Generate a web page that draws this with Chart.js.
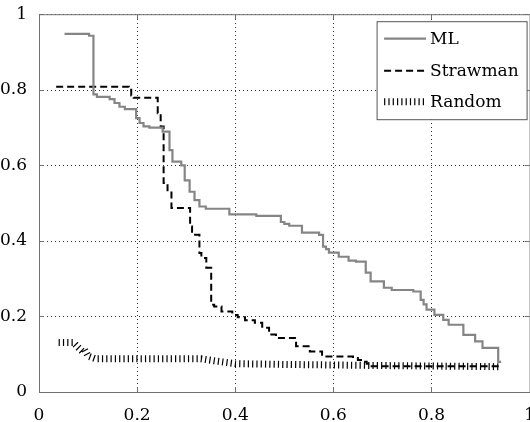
<!DOCTYPE html>
<html>
<head>
<meta charset="utf-8">
<script src="https://cdn.jsdelivr.net/npm/chart.js@4"></script>
<style>
  html, body { margin: 0; padding: 0; background: #fff; overflow: hidden; }
  canvas { display: block; }
</style>
</head>
<body>
<canvas id="pr-chart" width="540" height="422"></canvas>
<script>
const tickLabels = ["0", "0.2", "0.4", "0.6", "0.8", "1"];
const seriesNames = ["ML", "Strawman", "Random"];

const mlX = [0.052, 0.102, 0.111, 0.118, 0.144, 0.154, 0.164, 0.175, 0.198, 0.205, 0.213, 0.225,
  0.252, 0.266, 0.272, 0.29, 0.297, 0.307, 0.317, 0.327, 0.34, 0.388, 0.443, 0.493, 0.5, 0.51,
  0.536, 0.571, 0.579, 0.585, 0.591, 0.611, 0.631, 0.646, 0.666, 0.676, 0.703, 0.719, 0.763,
  0.778, 0.784, 0.79, 0.806, 0.824, 0.835, 0.865, 0.889, 0.904, 0.936, 0.942];
const mlY = [0.948, 0.943, 0.788, 0.781, 0.775, 0.765, 0.755, 0.749, 0.725, 0.712, 0.703, 0.70,
  0.689, 0.64, 0.61, 0.6, 0.56, 0.53, 0.508, 0.491, 0.485, 0.47, 0.466, 0.45, 0.445, 0.44,
  0.422, 0.416, 0.385, 0.378, 0.369, 0.358, 0.348, 0.345, 0.316, 0.293, 0.276, 0.27, 0.266,
  0.244, 0.232, 0.218, 0.204, 0.191, 0.178, 0.151, 0.134, 0.117, 0.08, 0.08];

const strawX = [0.035, 0.183, 0.188, 0.193, 0.242, 0.248, 0.254, 0.262, 0.27, 0.308, 0.312, 0.327,
  0.331, 0.341, 0.351, 0.357, 0.372, 0.394, 0.405, 0.42, 0.44, 0.455, 0.469, 0.483, 0.524,
  0.552, 0.577, 0.64, 0.65, 0.66, 0.668, 0.675, 0.942];
const strawY = [0.808, 0.80, 0.785, 0.779, 0.738, 0.703, 0.553, 0.531, 0.487, 0.438, 0.416, 0.368,
  0.355, 0.329, 0.231, 0.226, 0.213, 0.204, 0.198, 0.19, 0.183, 0.17, 0.152, 0.143, 0.121,
  0.107, 0.094, 0.09, 0.085, 0.08, 0.075, 0.068, 0.068];

const randX = [0.04, 0.07, 0.08, 0.088, 0.093, 0.1, 0.115, 0.33, 0.36, 0.4, 0.5, 0.7, 0.94];
const randY = [0.131, 0.131, 0.118, 0.108, 0.112, 0.095, 0.088, 0.088, 0.082, 0.075, 0.073, 0.07, 0.067];

const pts = (xs, ys) => xs.map((x, i) => ({ x: x, y: ys[i] }));
const FONT = { family: "'DejaVu Serif', serif", size: 17 };

// dotted grid, grey frame with inward ticks, boxed legend inside the axes
const framePlugin = {
  id: "frame",
  beforeDatasetsDraw(chart) {
    const { ctx, chartArea: a, scales } = chart;
    ctx.save();
    ctx.strokeStyle = "#333";
    ctx.lineWidth = 1;
    ctx.setLineDash([1, 3]);
    ctx.beginPath();
    scales.x.ticks.forEach(t => {
      const px = Math.round(scales.x.getPixelForValue(t.value)) + 0.5;
      ctx.moveTo(px, a.bottom); ctx.lineTo(px, a.top);
    });
    scales.y.ticks.forEach(t => {
      const py = Math.round(scales.y.getPixelForValue(t.value)) + 0.5;
      ctx.moveTo(a.left, py); ctx.lineTo(a.right, py);
    });
    ctx.stroke();
    ctx.restore();
  },
  afterDatasetsDraw(chart) {
    const { ctx, chartArea: a, scales } = chart;
    ctx.save();
    ctx.strokeStyle = "#707070";
    ctx.lineWidth = 1;
    ctx.setLineDash([]);
    ctx.strokeRect(a.left + 0.5, a.top + 0.5, a.right - a.left, a.bottom - a.top);
    ctx.beginPath();
    scales.x.ticks.forEach(t => {
      const px = Math.round(scales.x.getPixelForValue(t.value)) + 0.5;
      ctx.moveTo(px, a.bottom); ctx.lineTo(px, a.bottom - 5);
      ctx.moveTo(px, a.top); ctx.lineTo(px, a.top + 5);
    });
    scales.y.ticks.forEach(t => {
      const py = Math.round(scales.y.getPixelForValue(t.value)) + 0.5;
      ctx.moveTo(a.left, py); ctx.lineTo(a.left + 5, py);
      ctx.moveTo(a.right, py); ctx.lineTo(a.right - 5, py);
    });
    ctx.stroke();

    // legend
    const bx = a.right - 152.5, by = a.top + 7.5, bw = 150, bh = 98;
    ctx.fillStyle = "#fff";
    ctx.fillRect(bx, by, bw, bh);
    ctx.strokeStyle = "#555";
    ctx.strokeRect(bx, by, bw, bh);
    const rows = [17, 49, 80];
    chart.data.datasets.forEach((ds, i) => {
      const y = by + rows[i];
      ctx.save();
      ctx.strokeStyle = ds.borderColor;
      ctx.lineWidth = ds.borderWidth;
      ctx.lineCap = "butt";
      ctx.setLineDash(ds.borderDash || []);
      ctx.beginPath();
      ctx.moveTo(bx + 7, y); ctx.lineTo(bx + 49, y);
      ctx.stroke();
      ctx.restore();
      ctx.fillStyle = "#000";
      ctx.font = FONT.size + "px " + FONT.family;
      ctx.textBaseline = "middle";
      ctx.textAlign = "left";
      ctx.fillText(ds.label, bx + 53, y + 1);
    });
    ctx.restore();
  }
};

new Chart(document.getElementById("pr-chart").getContext("2d"), {
  type: "line",
  data: {
    datasets: [
      {
        label: seriesNames[0],
        data: pts(mlX, mlY),
        borderColor: "#858585",
        borderWidth: 2.2,
        stepped: "before",
        pointRadius: 0,
      },
      {
        label: seriesNames[1],
        data: pts(strawX, strawY),
        borderColor: "#000",
        borderWidth: 2,
        borderDash: [7, 4],
        stepped: "before",
        pointRadius: 0,
      },
      {
        label: seriesNames[2],
        data: pts(randX, randY),
        borderColor: "#000",
        borderWidth: 7,
        borderDash: [1.2, 3.1],
        borderCapStyle: "butt",
        tension: 0,
        pointRadius: 0,
      },
    ],
  },
  options: {
    responsive: false,
    animation: false,
    layout: { padding: { top: 14, right: 6, left: 0, bottom: 0 } },
    plugins: { legend: { display: false }, tooltip: { enabled: false } },
    scales: {
      x: {
        type: "linear",
        min: 0,
        max: 1,
        grid: { display: false },
        border: { display: false },
        ticks: {
          stepSize: 0.2,
          color: "#000",
          font: FONT,
          padding: 5,
          maxRotation: 0,
          callback: (v, i) => tickLabels[i],
        },
        afterFit: s => { s.height = 30; },
      },
      y: {
        min: 0,
        max: 1,
        grid: { display: false },
        border: { display: false },
        ticks: {
          stepSize: 0.2,
          color: "#000",
          font: FONT,
          padding: 4,
          callback: (v, i) => tickLabels[i],
        },
        afterFit: s => { s.width = 39; },
      },
    },
  },
  plugins: [framePlugin],
});
</script>
</body>
</html>
